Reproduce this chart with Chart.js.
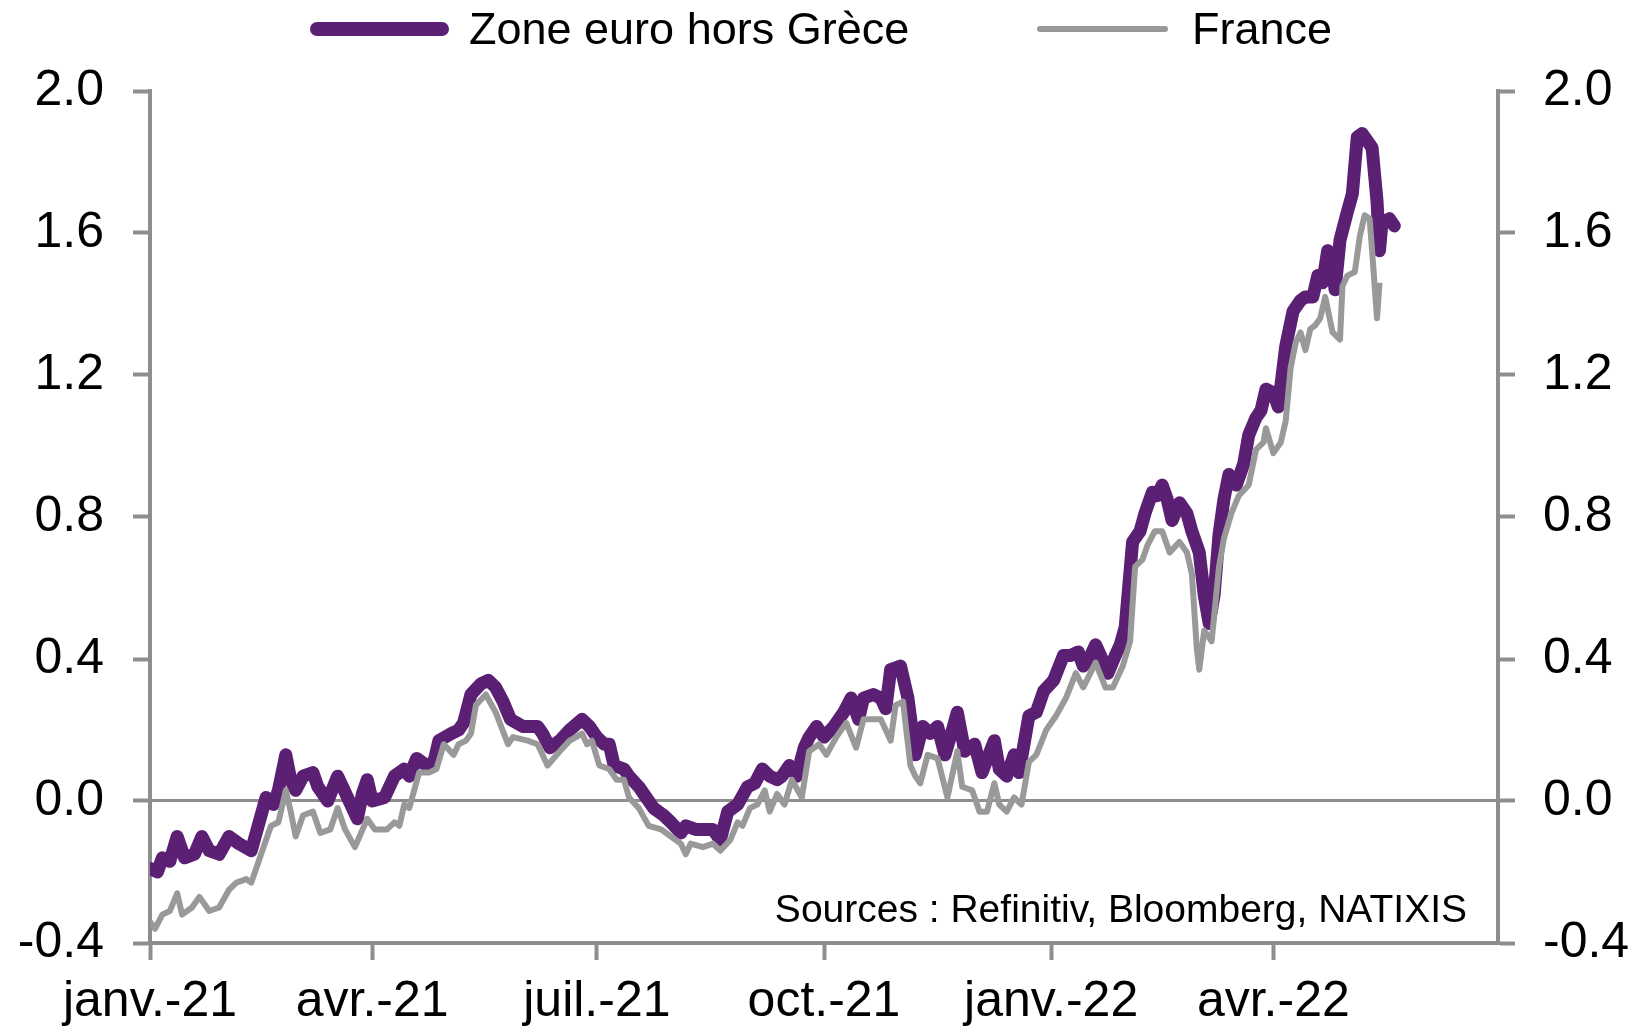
<!DOCTYPE html>
<html lang="fr">
<head>
  <meta charset="UTF-8">
  <title>Zone euro hors Grèce / France</title>
  <script src="https://cdn.jsdelivr.net/npm/chart.js"></script>
  <style>
    html, body { margin: 0; padding: 0; background: #fff; }
    .chart-wrap { position: relative; width: 1637px; height: 1027px; }
  </style>
</head>
<body>
  <div class="chart-wrap"><canvas id="chart"></canvas></div>

  <script>
    // x values are days counted from 1 Jan 2021
    const quarterDays = [0, 90, 181, 273, 365, 455];
    const quarterLabels = ['janv.-21', 'avr.-21', 'juil.-21', 'oct.-21', 'janv.-22', 'avr.-22'];
    const yTicks = [-0.4, 0, 0.4, 0.8, 1.2, 1.6, 2.0];

    const zoneDays = [0, 3, 5, 8, 11, 14, 18, 21, 24, 28, 32, 36, 41, 45, 47, 50, 52, 55, 57, 59,
      62, 66, 68, 72, 76, 78, 80, 84, 86, 88, 90, 95, 99, 103, 105, 108, 112, 115, 117, 122,
      125, 127, 130, 134, 137, 140, 143, 146, 151, 154, 157, 159, 162, 166, 170, 175, 178, 181, 184, 186,
      188, 192, 194, 198, 201, 204, 208, 211, 215, 217, 221, 225, 228, 231, 234, 238, 242, 245, 248, 251,
      254, 256, 259, 262, 265, 267, 270, 273, 277, 281, 284, 287, 289, 293, 296, 298, 300, 304, 307, 310,
      313, 316, 319, 322, 325, 327, 330, 334, 337, 342, 344, 347, 350, 352, 356, 359, 362, 366, 370, 373,
      376, 378, 381, 383, 385, 388, 391, 393, 395, 398, 401, 403, 406, 408, 410, 412, 414, 417, 420, 422,
      425, 427, 429, 431, 433, 435, 437, 440, 443, 445, 448, 450, 452, 455, 457, 460, 463, 466, 468, 471,
      473, 475, 477, 479, 480, 482, 485, 487, 489, 491, 493, 495, 497, 498, 499, 502, 504];
    const zoneValues = [-0.19, -0.20, -0.16, -0.17, -0.10, -0.16, -0.15, -0.10, -0.14, -0.15, -0.10, -0.12, -0.14, -0.04, 0.01, -0.01, 0.03, 0.13, 0.06, 0.03,
      0.07, 0.08, 0.04, 0.00, 0.07, 0.04, 0.01, -0.05, 0.02, 0.06, 0.00, 0.01, 0.07, 0.09, 0.07, 0.12, 0.10, 0.11, 0.17, 0.19,
      0.20, 0.22, 0.30, 0.33, 0.34, 0.32, 0.28, 0.23, 0.21, 0.21, 0.21, 0.19, 0.15, 0.17, 0.20, 0.23, 0.21, 0.18, 0.16, 0.16,
      0.10, 0.09, 0.07, 0.04, 0.01, -0.02, -0.04, -0.06, -0.09, -0.07, -0.08, -0.08, -0.08, -0.11, -0.03, -0.01, 0.04, 0.05, 0.09, 0.07,
      0.06, 0.07, 0.10, 0.07, 0.15, 0.18, 0.21, 0.18, 0.21, 0.25, 0.29, 0.23, 0.29, 0.30, 0.29, 0.26, 0.37, 0.38, 0.29, 0.13,
      0.21, 0.19, 0.21, 0.13, 0.20, 0.25, 0.14, 0.16, 0.08, 0.17, 0.09, 0.07, 0.13, 0.08, 0.24, 0.25, 0.31, 0.34, 0.41, 0.41,
      0.42, 0.38, 0.41, 0.44, 0.41, 0.36, 0.41, 0.44, 0.49, 0.73, 0.76, 0.81, 0.87, 0.86, 0.89, 0.85, 0.79, 0.84, 0.81, 0.76,
      0.70, 0.58, 0.50, 0.58, 0.75, 0.85, 0.92, 0.89, 0.95, 1.03, 1.08, 1.10, 1.16, 1.15, 1.11, 1.28, 1.38, 1.41, 1.42, 1.42,
      1.48, 1.46, 1.55, 1.51, 1.44, 1.58, 1.66, 1.71, 1.87, 1.88, 1.86, 1.84, 1.69, 1.55, 1.63, 1.64, 1.62];

    const franceDays = [0, 2, 5, 8, 11, 13, 17, 20, 24, 28, 32, 35, 39, 41, 45, 49, 52, 55, 57, 59,
      62, 66, 69, 73, 76, 79, 83, 88, 91, 96, 99, 101, 103, 105, 109, 113, 116, 119, 123, 125,
      128, 130, 132, 136, 140, 145, 147, 153, 157, 161, 166, 170, 175, 177, 179, 182, 186, 189, 192, 194,
      198, 202, 207, 211, 215, 217, 219, 224, 228, 231, 235, 238, 240, 243, 246, 249, 251, 254, 257, 260,
      264, 267, 271, 274, 278, 282, 286, 289, 293, 296, 300, 302, 305, 308, 310, 312, 315, 319, 323, 327,
      329, 333, 336, 339, 342, 344, 347, 350, 353, 356, 359, 363, 367, 371, 375, 378, 383, 387, 390, 394,
      397, 399, 402, 404, 407, 410, 413, 417, 420, 422, 424, 425, 427, 430, 433, 435, 438, 441, 445, 448,
      451, 452, 455, 458, 460, 462, 464, 466, 468, 470, 472, 474, 476, 479, 482, 483, 485, 488, 490, 492,
      494, 495, 497, 498];
    const franceValues = [-0.34, -0.36, -0.32, -0.31, -0.26, -0.32, -0.30, -0.27, -0.31, -0.30, -0.25, -0.23, -0.22, -0.23, -0.15, -0.07, -0.06, 0.03, -0.03, -0.10,
      -0.04, -0.03, -0.09, -0.08, -0.02, -0.08, -0.13, -0.05, -0.08, -0.08, -0.06, -0.07, -0.01, -0.02, 0.08, 0.08, 0.09, 0.16, 0.13, 0.16,
      0.17, 0.19, 0.27, 0.30, 0.25, 0.16, 0.18, 0.17, 0.16, 0.10, 0.14, 0.17, 0.19, 0.16, 0.17, 0.10, 0.09, 0.06, 0.06, 0.01,
      -0.02, -0.07, -0.08, -0.10, -0.12, -0.15, -0.12, -0.13, -0.12, -0.14, -0.11, -0.06, -0.07, -0.02, -0.01, 0.03, -0.03, 0.02, -0.01, 0.06,
      0.01, 0.14, 0.16, 0.13, 0.18, 0.22, 0.15, 0.23, 0.23, 0.23, 0.17, 0.27, 0.28, 0.10, 0.07, 0.05, 0.13, 0.12, 0.01, 0.14,
      0.04, 0.03, -0.03, -0.03, 0.05, -0.01, -0.03, 0.01, -0.01, 0.11, 0.13, 0.20, 0.24, 0.29, 0.36, 0.32, 0.39, 0.32, 0.32, 0.38,
      0.45, 0.66, 0.68, 0.72, 0.76, 0.76, 0.70, 0.73, 0.70, 0.64, 0.43, 0.37, 0.48, 0.45, 0.66, 0.74, 0.81, 0.86, 0.89, 0.99,
      1.01, 1.05, 0.98, 1.01, 1.07, 1.22, 1.29, 1.32, 1.27, 1.33, 1.34, 1.36, 1.42, 1.32, 1.30, 1.45, 1.48, 1.49, 1.59, 1.65,
      1.64, 1.55, 1.36, 1.46];

    const sourceText = 'Sources : Refinitiv, Bloomberg, NATIXIS';

    const PURPLE = '#5b1f73';
    const GREY = '#999999';
    const AXIS = '#8e8e8e';
    const FONT = "'Liberation Sans', Arial, sans-serif";

    const toPoints = (days, values) => days.map((d, i) => ({ x: d, y: values[i] }));

    // legend + sources drawn on the canvas, laid out like the original
    const decorations = {
      id: 'decorations',
      afterDraw(chart) {
        const ctx = chart.ctx;
        const items = [
          { ds: chart.data.datasets[0], x0: 317, x1: 442, textX: 469, width: 14 },
          { ds: chart.data.datasets[1], x0: 1040, x1: 1165, textX: 1192, width: 6 }
        ];
        ctx.save();
        items.forEach(it => {
          ctx.beginPath();
          ctx.strokeStyle = it.ds.borderColor;
          ctx.lineWidth = it.width;
          ctx.lineCap = 'round';
          ctx.moveTo(it.x0, 29);
          ctx.lineTo(it.x1, 29);
          ctx.stroke();
          ctx.fillStyle = '#000';
          ctx.font = '45px ' + FONT;
          ctx.textAlign = 'left';
          ctx.textBaseline = 'alphabetic';
          ctx.fillText(it.ds.label, it.textX, 44);
        });
        ctx.font = '39px ' + FONT;
        ctx.textAlign = 'right';
        ctx.fillText(sourceText, 1467, 922);
        ctx.restore();
      }
    };

    const yGrid = (onArea) => ({
      drawOnChartArea: onArea,
      color: c => (c.tick && c.tick.value === 0) ? AXIS : 'rgba(0,0,0,0)',
      lineWidth: 3,
      tickColor: AXIS,
      tickLength: 17,
      tickWidth: 4
    });

    new Chart(document.getElementById('chart'), {
      type: 'line',
      data: {
        datasets: [
          {
            label: 'Zone euro hors Grèce',
            data: toPoints(zoneDays, zoneValues),
            borderColor: PURPLE,
            borderWidth: 13,
            borderJoinStyle: 'round',
            borderCapStyle: 'round',
            pointRadius: 0,
            tension: 0,
            order: 2
          },
          {
            label: 'France',
            data: toPoints(franceDays, franceValues),
            borderColor: GREY,
            borderWidth: 6,
            borderJoinStyle: 'round',
            pointRadius: 0,
            tension: 0,
            order: 1
          }
        ]
      },
      options: {
        responsive: true,
        maintainAspectRatio: false,
        animation: false,
        layout: { padding: { top: 91, left: 0, right: 0, bottom: 0 } },
        plugins: {
          legend: { display: false },
          tooltip: { enabled: false }
        },
        scales: {
          x: {
            type: 'linear',
            min: 0,
            max: 546,
            afterBuildTicks: s => { s.ticks = quarterDays.map(v => ({ value: v })); },
            afterFit: s => { s.height = 84; },
            ticks: {
              autoSkip: false,
              maxRotation: 0,
              padding: 12,
              color: '#000',
              font: { family: FONT, size: 50 },
              callback: v => quarterLabels[quarterDays.indexOf(v)]
            },
            grid: { drawOnChartArea: false, tickColor: AXIS, tickLength: 17, tickWidth: 4 },
            border: { display: true, color: AXIS, width: 4 }
          },
          y: {
            position: 'left',
            min: -0.4,
            max: 2.0,
            afterBuildTicks: s => { s.ticks = yTicks.map(v => ({ value: v })); },
            afterFit: s => { s.width = 150; },
            ticks: {
              padding: 29,
              color: '#000',
              font: { family: FONT, size: 50 },
              callback: v => v.toFixed(1)
            },
            grid: yGrid(true),
            border: { display: true, color: AXIS, width: 4 }
          },
          y2: {
            position: 'right',
            min: -0.4,
            max: 2.0,
            afterBuildTicks: s => { s.ticks = yTicks.map(v => ({ value: v })); },
            afterFit: s => { s.width = 139; },
            ticks: {
              padding: 28,
              color: '#000',
              font: { family: FONT, size: 50 },
              callback: v => v.toFixed(1)
            },
            grid: yGrid(false),
            border: { display: true, color: AXIS, width: 4 }
          }
        }
      },
      plugins: [decorations]
    });
  </script>
</body>
</html>
